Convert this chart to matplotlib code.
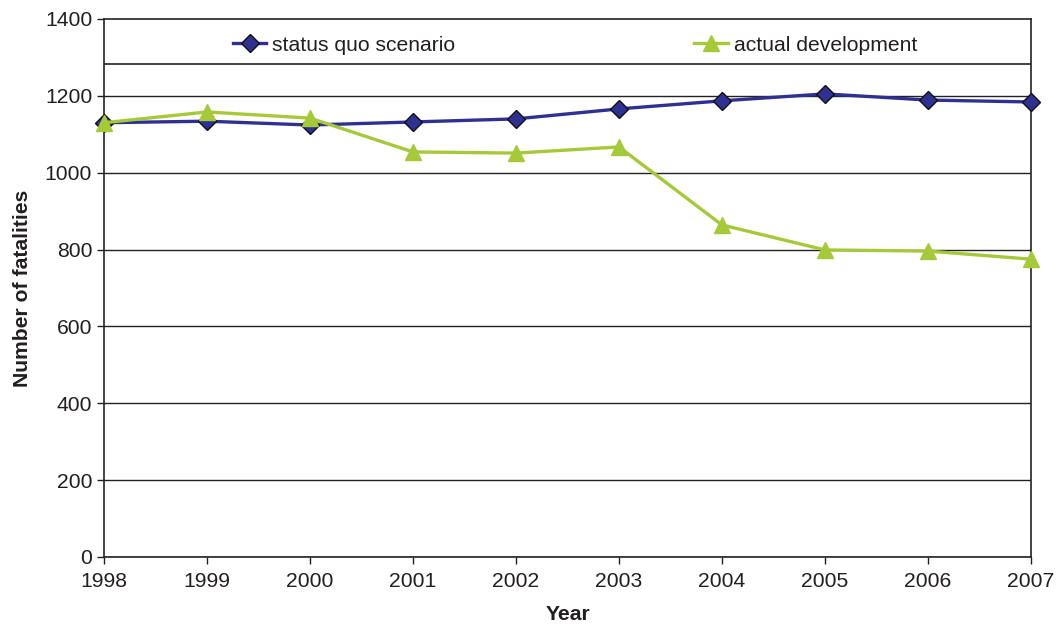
import matplotlib.pyplot as plt
from matplotlib.patches import Rectangle

plt.rcParams["font.family"] = ["Liberation Sans", "DejaVu Sans"]

# Data
years = [1998, 1999, 2000, 2001, 2002, 2003, 2004, 2005, 2006, 2007]
status_quo = [1130, 1134, 1124, 1132, 1140, 1166, 1187, 1205, 1189, 1184]
actual = [1130, 1158, 1142, 1054, 1051, 1067, 864, 799, 796, 775]
y_ticks = [0, 200, 400, 600, 800, 1000, 1200, 1400]

TEXT = "#231f20"
BLUE = "#2e3192"
GREEN = "#a6c93a"
FS = 15.2

fig = plt.figure(figsize=(10.58, 6.24), dpi=100)
ax = fig.add_axes([0.0983, 0.1074, 0.8762, 0.8622])

ax.plot(years, status_quo, color=BLUE, linewidth=2.4, marker="D", markersize=9,
        markerfacecolor=BLUE, markeredgecolor="#111111", markeredgewidth=1,
        label="status quo scenario", zorder=3, clip_on=False)
ax.plot(years, actual, color=GREEN, linewidth=2.4, marker="^", markersize=11.5,
        markerfacecolor=GREEN, markeredgecolor=GREEN,
        label="actual development", zorder=4, clip_on=False)

ax.set_xlim(1998, 2007)
ax.set_ylim(0, 1400)
ax.set_xticks(years)
ax.set_yticks(y_ticks)
ax.yaxis.grid(True, color="#222222", linewidth=1)
ax.set_axisbelow(True)

for side in ["left", "bottom", "top", "right"]:
    ax.spines[side].set_color("#222222")
    ax.spines[side].set_linewidth(1.2)

ax.tick_params(axis="both", labelsize=FS, colors=TEXT, length=5, width=1)
ax.tick_params(axis="x", pad=6)
ax.set_xlabel("Year", fontsize=FS, fontweight="bold", color=TEXT, labelpad=10)
ax.set_ylabel("Number of fatalities", fontsize=FS, fontweight="bold", color=TEXT, labelpad=9)

# legend box across the top of the plot area
leg_bottom = 0.916
ax.add_patch(Rectangle((0, leg_bottom), 1, 1 - leg_bottom, transform=ax.transAxes,
                       facecolor="white", edgecolor="#222222", linewidth=1.2, zorder=5))
leg = ax.legend(loc="center", bbox_to_anchor=(0.508, 0.951), ncol=2,
                frameon=False, fontsize=FS, handlelength=1.6, handletextpad=0.28,
                columnspacing=11.3, borderaxespad=0)
leg.set_zorder(6)
for t in leg.get_texts():
    t.set_color(TEXT)

fig.savefig("out.png", dpi=100)
